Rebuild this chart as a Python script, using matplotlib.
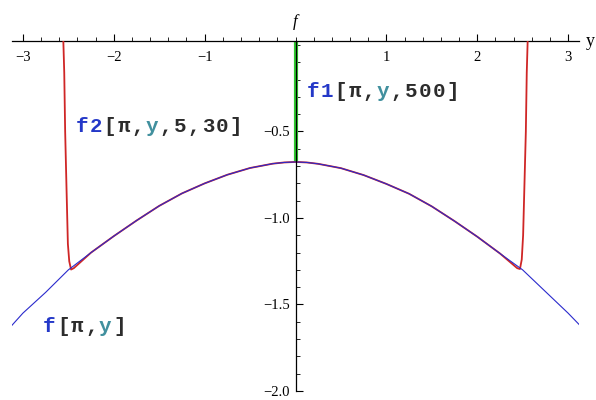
import matplotlib.pyplot as plt
from matplotlib.ticker import MultipleLocator, FixedLocator

# f[pi, y] sampled along y
y_vals = [-3.12, -3.0, -2.75, -2.5, -2.25, -2.0, -1.75, -1.5, -1.25, -1.0, -0.75, -0.5, -0.25, -0.125,
          0.0, 0.125, 0.25, 0.5, 0.75, 1.0, 1.25, 1.5, 1.75, 2.0, 2.25, 2.5, 2.75, 3.0, 3.12]
f_vals = [-1.62, -1.55, -1.43, -1.30, -1.20, -1.105, -1.015, -0.93, -0.858, -0.80, -0.75, -0.711, -0.686, -0.679,
          -0.676, -0.679, -0.687, -0.712, -0.752, -0.803, -0.86, -0.933, -1.018, -1.108, -1.205, -1.30, -1.425, -1.55, -1.615]

# f2[pi, y, 5, 30]: follows f in the middle, blows up near |y| ~ 2.55
f2_left_y = [-2.555, -2.545, -2.535, -2.52, -2.505, -2.49, -2.47, -2.44]
f2_left_v = [0.023, -0.16, -0.50, -0.83, -1.15, -1.25, -1.298, -1.29]
f2_right_y = [2.44, 2.47, 2.49, 2.505, 2.52, 2.535, 2.545, 2.555]
f2_right_v = [-1.29, -1.295, -1.24, -1.10, -0.80, -0.50, -0.16, 0.023]

# f1[pi, y, 500]: spike at y = 0
f1_y = [0.0, 0.0]
f1_v = [0.023, -0.676]

x_labels = [-3, -2, -1, 1, 2, 3]
y_labels = [-0.5, -1.0, -1.5, -2.0]

BLUE_TXT = '#2438c8'
TEAL_TXT = '#41909e'
DARK_TXT = '#2c2c2c'

fig = plt.figure(figsize=(5.96, 4.0), dpi=100)
ax = fig.add_axes([12 / 596, 9 / 400, 567 / 596, 350 / 400])
ax.set_xlim(-3.12, 3.12)
ax.set_ylim(-2.0, 0.023)

# curves
core = [(y, v) for y, v in zip(y_vals, f_vals) if abs(y) <= 2.25]
f2_y = f2_left_y + [c[0] for c in core] + f2_right_y
f2_v = f2_left_v + [c[1] for c in core] + f2_right_v
ax.plot(f1_y, f1_v, color='#2ec82e', lw=3.0, solid_capstyle='butt', zorder=2)
ax.plot(f2_y, f2_v, color='#cf2626', lw=1.3, zorder=3)
ax.plot(y_vals, f_vals, color='#2a2acc', lw=0.8, zorder=4)

# axes through the origin
for s in ['top', 'right']:
    ax.spines[s].set_visible(False)
ax.spines['left'].set_position(('data', 0))
ax.spines['bottom'].set_position(('data', 0.023))
ax.spines['left'].set_zorder(5)
for s in ['left', 'bottom']:
    ax.spines[s].set_linewidth(0.9)

ax.xaxis.set_major_locator(FixedLocator(x_labels))
ax.xaxis.set_minor_locator(MultipleLocator(0.2))
ax.yaxis.set_major_locator(FixedLocator(y_labels))
ax.yaxis.set_minor_locator(MultipleLocator(0.1))
ax.xaxis.set_major_formatter(plt.FuncFormatter(lambda v, p: f'{v:.0f}'.replace('-', '\u2212')))
ax.yaxis.set_major_formatter(plt.FuncFormatter(lambda v, p: f'{v:.1f}'.replace('-', '\u2212')))
ax.tick_params(axis='x', which='major', direction='in', length=5, width=0.8, pad=7)
ax.tick_params(axis='x', which='minor', direction='in', length=3, width=0.6)
ax.tick_params(axis='y', which='major', direction='in', length=5, width=0.8, pad=4)
ax.tick_params(axis='y', which='minor', direction='in', length=3, width=0.6)
for lab in ax.get_xticklabels() + ax.get_yticklabels():
    lab.set_fontfamily('Liberation Serif')
    lab.set_fontsize(10.5)

# axis names
ax.text(0.0, 0.13, 'f', fontfamily='Liberation Serif', style='italic', fontsize=12,
        ha='center', va='center', clip_on=False)
ax.text(3.19, 0.023, 'y', fontfamily='Liberation Serif', fontsize=13,
        ha='left', va='center', clip_on=False)


def code_label(x, y, parts, size=15, pitch=10.1):
    # one glyph per cell, fixed advance in points
    pos = 0
    for txt, col in parts:
        for ch in txt:
            ax.annotate(ch, xy=(x, y), xytext=(pos * pitch, 0), textcoords='offset points',
                        fontfamily='Liberation Mono', fontweight='bold', fontsize=size,
                        color=col, ha='left', va='baseline', zorder=6)
            pos += 1


code_label(-2.42, -0.503, [('f2', BLUE_TXT), ('[π,', DARK_TXT), ('y', TEAL_TXT), (',5,30]', DARK_TXT)])
code_label(0.12, -0.30, [('f1', BLUE_TXT), ('[π,', DARK_TXT), ('y', TEAL_TXT), (',500]', DARK_TXT)])
code_label(-2.78, -1.659, [('f', BLUE_TXT), ('[π,', DARK_TXT), ('y', TEAL_TXT), (']', DARK_TXT)])

fig.savefig('out.png', dpi=100)
